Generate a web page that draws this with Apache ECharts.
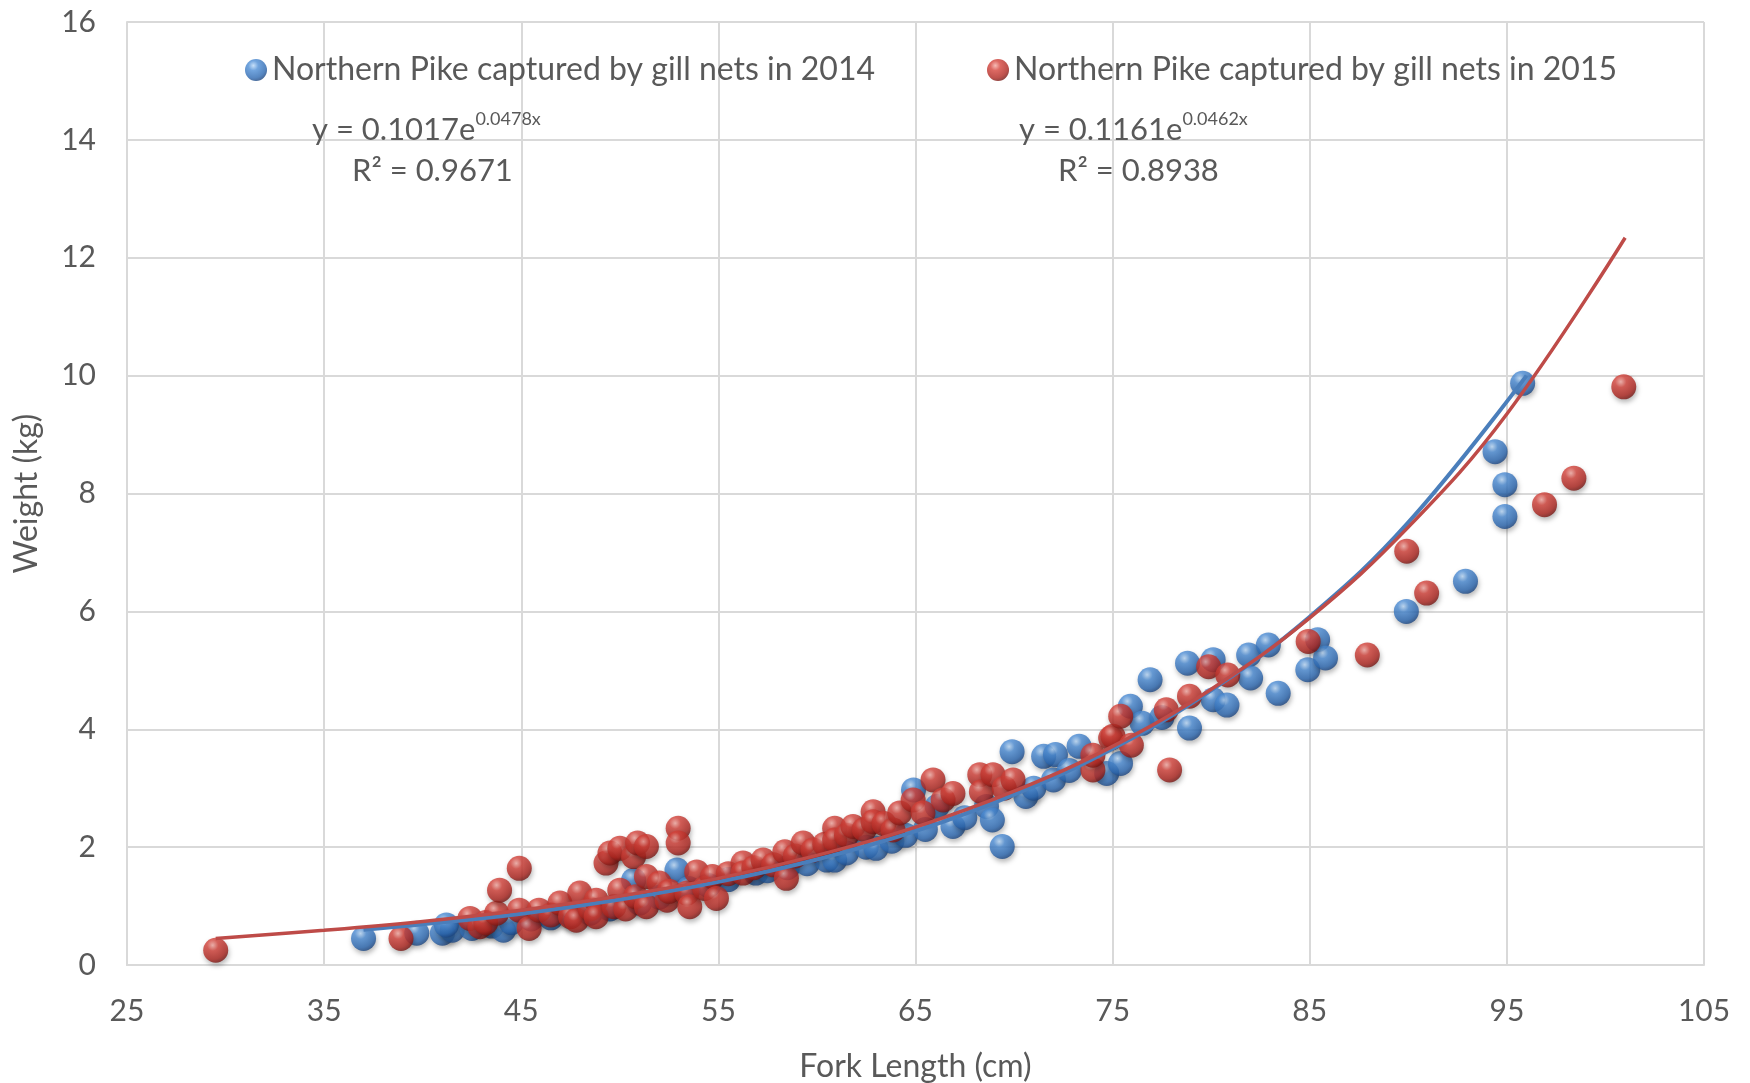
<!DOCTYPE html>
<html>
<head>
<meta charset="utf-8">
<script src="https://cdn.jsdelivr.net/npm/echarts@6/dist/echarts.min.js"></script>
<style>html,body{margin:0;padding:0;background:#fff}#c{width:1750px;height:1083px}</style>
</head>
<body>
<div id="c"></div>
<script>
// ---- data ----
const seriesNames = ['Northern Pike captured by gill nets in 2014', 'Northern Pike captured by gill nets in 2015'];
const pike2014 = [[37.0,0.45],[39.7,0.54],[41.0,0.54],[41.5,0.59],[41.2,0.68],[42.5,0.62],[43.5,0.66],[44.1,0.59],[44.5,0.72],[45.5,0.78],[46.5,0.80],[47.5,0.85],[48.5,0.88],[49.5,0.95],[50.7,1.44],[51.0,1.05],[52.0,1.15],[52.9,1.61],[53.5,1.30],[54.5,1.35],[55.5,1.45],[56.9,1.56],[57.5,1.60],[58.5,1.65],[59.5,1.72],[60.5,1.78],[60.9,1.78],[61.5,1.90],[62.5,2.00],[63.0,1.98],[63.8,2.10],[64.5,2.20],[64.9,2.97],[65.5,2.30],[66.1,2.69],[66.9,2.35],[67.5,2.50],[68.6,2.69],[68.9,2.46],[69.4,2.01],[69.9,3.62],[70.6,2.86],[71.0,3.00],[71.5,3.54],[72.0,3.14],[72.1,3.57],[72.8,3.30],[73.3,3.71],[74.7,3.25],[75.4,3.42],[75.9,4.39],[76.5,4.10],[76.9,4.84],[77.5,4.20],[78.9,4.02],[78.8,5.12],[80.1,4.50],[80.1,5.18],[80.8,4.41],[81.9,5.26],[82.0,4.87],[82.9,5.43],[83.4,4.61],[84.9,5.01],[85.4,5.52],[85.8,5.21],[89.9,6.00],[92.9,6.51],[94.4,8.71],[94.9,8.15],[94.9,7.61],[95.8,9.87]];
const pike2015 = [[29.5,0.25],[38.9,0.45],[42.4,0.79],[42.9,0.65],[43.2,0.72],[43.75,0.88],[43.9,1.27],[44.9,1.64],[44.9,0.93],[45.4,0.62],[45.9,0.93],[46.5,0.85],[46.96,1.05],[47.5,0.82],[47.8,0.76],[47.97,1.22],[48.5,0.95],[48.8,1.10],[48.8,0.82],[49.3,1.73],[49.5,1.90],[49.7,0.99],[50.0,1.98],[50.0,1.27],[50.3,0.95],[50.7,1.84],[50.8,1.16],[50.9,2.07],[51.35,2.01],[51.35,1.50],[51.35,0.99],[52.0,1.39],[52.4,1.10],[52.5,1.25],[52.96,2.32],[52.96,2.07],[53.4,1.22],[53.55,0.99],[53.9,1.58],[54.3,1.30],[54.7,1.50],[54.9,1.13],[55.5,1.55],[56.25,1.73],[56.25,1.56],[56.8,1.65],[57.27,1.78],[57.8,1.70],[58.37,1.92],[58.45,1.47],[58.9,1.85],[59.3,2.07],[59.8,1.95],[60.4,2.05],[60.9,2.32],[60.9,2.12],[61.5,2.20],[61.83,2.35],[62.4,2.30],[62.85,2.60],[62.85,2.43],[63.4,2.40],[63.86,2.29],[64.2,2.58],[64.88,2.80],[65.38,2.58],[65.89,3.14],[66.4,2.80],[66.9,2.91],[68.26,3.23],[68.34,2.94],[68.93,3.23],[69.5,3.00],[69.95,3.14],[74.0,3.31],[74.0,3.56],[74.9,3.85],[75.02,3.88],[75.41,4.22],[75.95,3.73],[77.72,4.33],[77.89,3.31],[78.9,4.56],[79.87,5.06],[80.84,4.92],[84.92,5.49],[87.92,5.26],[89.92,7.02],[90.93,6.31],[96.91,7.81],[98.4,8.26],[100.93,9.81]];
// trend curves
const trend2014 = [[37,0.60],[40,0.69],[45,0.87],[50,1.11],[55,1.41],[60,1.79],[65,2.27],[70,2.89],[75,3.67],[80,4.66],[85,5.91],[90,7.51],[96,10.0]];
const trend2015 = [[29.5,0.45],[35,0.59],[40,0.74],[45,0.93],[50,1.17],[55,1.47],[60,1.86],[65,2.34],[70,2.95],[75,3.71],[80,4.68],[85,5.89],[90,7.43],[95,9.35],[101,12.34]];
const eq2014 = ['y = 0.1017e', '0.0478x', 'R² = 0.9671'];
const eq2015 = ['y = 0.1161e', '0.0462x', 'R² = 0.8938'];
const xRange = [25, 105, 10];
const yRange = [0, 16, 2];
const xTitle = 'Fork Length (cm)';
const yTitle = 'Weight (kg)';

// ---- styles ----
const FONT = 'Lato';
const TXT = '#595959';
const GRIDC = '#d9d9d9';
function sphere(c0, c1, c2, c3) {
  return { type: 'radial', x: 0.38, y: 0.3, r: 0.75,
    colorStops: [{offset:0,color:c0},{offset:0.3,color:c1},{offset:0.75,color:c2},{offset:1,color:c3}] };
}
const blueBall = sphere('#b9d8f7', '#4d8dd5', '#2c68b1', '#183f78');
const redBall = sphere('#f4aaa3', '#d4433b', '#ae2620', '#6c1310');
const ballShadow = { shadowBlur: 5, shadowColor: 'rgba(0,0,0,0.35)', shadowOffsetX: 1, shadowOffsetY: 3 };

const chart = echarts.init(document.getElementById('c'), null, { renderer: 'canvas' });
const eqRich = { a: { fontSize: 31, fontFamily: FONT, fill: TXT }, s: { fontSize: 18, fontFamily: FONT, fill: TXT, padding: [0,0,22,0] } };
const option = {
  animation: false,
  backgroundColor: '#ffffff',
  textStyle: { fontFamily: FONT },
  grid: { left: 127, right: 46, top: 22, bottom: 118, containLabel: false, outerBoundsMode: 'none' },
  legend: [
    { data: [seriesNames[0]], left: 240, top: 49, icon: 'circle', itemWidth: 22, itemHeight: 22,
      textStyle: { color: TXT, fontSize: 32, fontFamily: FONT } },
    { data: [seriesNames[1]], left: 982, top: 49, icon: 'circle', itemWidth: 22, itemHeight: 22,
      textStyle: { color: TXT, fontSize: 32, fontFamily: FONT } }
  ],
  xAxis: {
    type: 'value', min: xRange[0], max: xRange[1], interval: xRange[2],
    name: xTitle, nameLocation: 'middle', nameGap: 86,
    nameTextStyle: { color: TXT, fontSize: 32, fontFamily: FONT },
    axisLine: { show: true, lineStyle: { color: GRIDC, width: 2 } },
    axisTick: { show: false },
    axisLabel: { color: TXT, fontSize: 30, margin: 31, fontFamily: FONT },
    splitLine: { show: true, lineStyle: { color: GRIDC, width: 2 } }
  },
  yAxis: {
    type: 'value', min: yRange[0], max: yRange[1], interval: yRange[2],
    name: yTitle, nameLocation: 'middle', nameGap: 84, nameRotate: 90,
    nameTextStyle: { color: TXT, fontSize: 32, fontFamily: FONT },
    axisLine: { show: true, lineStyle: { color: GRIDC, width: 2 } },
    axisTick: { show: false },
    axisLabel: { color: TXT, fontSize: 30, margin: 31, fontFamily: FONT },
    splitLine: { show: true, lineStyle: { color: GRIDC, width: 2 } }
  },
  series: [
    { name: seriesNames[0], type: 'scatter', data: pike2014, symbolSize: 25, z: 2,
      itemStyle: Object.assign({ color: blueBall }, ballShadow) },
    { name: seriesNames[1], type: 'scatter', data: pike2015, symbolSize: 25, z: 3,
      itemStyle: Object.assign({ color: redBall }, ballShadow) },
    { name: 'trend2014', type: 'line', data: trend2014, smooth: 0.4, showSymbol: false, z: 4,
      lineStyle: { color: '#4a7ebb', width: 4 } },
    { name: 'trend2015', type: 'line', data: trend2015, smooth: 0.4, showSymbol: false, z: 5,
      lineStyle: { color: '#be4b48', width: 3.5 } }
  ],
  graphic: [
    { type: 'text', left: 312, top: 110, z: 10, style: { text: '{a|' + eq2014[0] + '}{s|' + eq2014[1] + '}', rich: eqRich } },
    { type: 'text', left: 352, top: 155, z: 10, style: { text: eq2014[2], fontSize: 31, fontFamily: FONT, fill: TXT } },
    { type: 'text', left: 1019, top: 110, z: 10, style: { text: '{a|' + eq2015[0] + '}{s|' + eq2015[1] + '}', rich: eqRich } },
    { type: 'text', left: 1058, top: 155, z: 10, style: { text: eq2015[2], fontSize: 31, fontFamily: FONT, fill: TXT } }
  ]
};
chart.setOption(option);
</script>
</body>
</html>
